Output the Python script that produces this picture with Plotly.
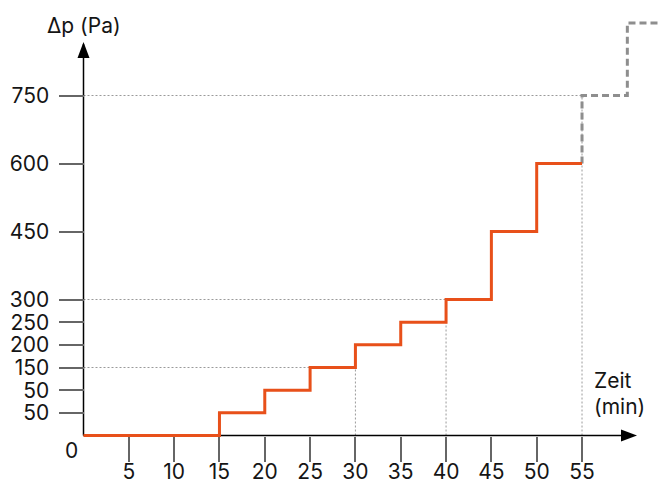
import plotly.graph_objects as go

# --- data ---
time_min = [0, 15, 20, 25, 30, 35, 40, 45, 50, 55]
dp_pa = [0, 50, 100, 150, 200, 250, 300, 450, 600, 600]
proj_time = [55, 60, 65]
proj_dp = [600, 750, 910]
x_ticks = [5, 10, 15, 20, 25, 30, 35, 40, 45, 50, 55]
y_ticks = [50, 100, 150, 200, 250, 300, 450, 600, 750]
y_tick_labels = ["50", "50", "150", "200", "250", "300", "450", "600", "750"]

# page body has an 8px margin, so the figure is drawn 8px in from the corner
OFF = 8
W, H = 667 - OFF, 484 - OFF
X0_PX, Y0_PX = 83.5 - OFF, 435.5 - OFF
PX_PER_X = 9.064
PX_PER_Y = 0.45333
xmin, xmax = -X0_PX / PX_PER_X, (W - X0_PX) / PX_PER_X
ymin, ymax = -(H - Y0_PX) / PX_PER_Y, Y0_PX / PX_PER_Y


def dx(px):  # reference page pixel -> data x
    return (px - OFF - X0_PX) / PX_PER_X


def dy(py):  # reference page pixel -> data y
    return (Y0_PX - (py - OFF)) / PX_PER_Y


FONT = "Inter"
FS = 21
ORANGE = "#e8501a"
GREY = "#8e8e8e"
DOT = "#9a9a9a"
TICKC = "#666666"

fig = go.Figure()

# guide lines (dotted)
guides_h = [(150, 25), (300, 40), (750, 55)]
guides_v = [(30, 200), (40, 300), (55, 750)]
for yv, xe in guides_h:
    fig.add_shape(type="line", x0=0, x1=xe, y0=yv, y1=yv, xref="x", yref="y",
                  line=dict(color=DOT, width=1, dash="2px,2px"), layer="below")
for xv, ye in guides_v:
    fig.add_shape(type="line", x0=xv, x1=xv, y0=0, y1=ye, xref="x", yref="y",
                  line=dict(color=DOT, width=1, dash="2px,2px"), layer="below")

fig.add_trace(go.Scatter(x=proj_time, y=proj_dp, mode="lines", line_shape="vh",
                         line=dict(color=GREY, width=3, dash="7px,4px"),
                         hoverinfo="skip", showlegend=False))
fig.add_trace(go.Scatter(x=time_min, y=dp_pa, mode="lines", line_shape="hv",
                         line=dict(color=ORANGE, width=3),
                         hoverinfo="skip", showlegend=False))

# axis lines with arrowheads
x_tip = dx(637)
y_tip = dy(42)
fig.add_shape(type="line", x0=0, x1=x_tip - 1, y0=0, y1=0, xref="x", yref="y",
              line=dict(color="black", width=1.5), layer="below")
fig.add_shape(type="line", x0=0, x1=0, y0=0, y1=y_tip - 5, xref="x", yref="y",
              line=dict(color="black", width=1.5), layer="below")
fig.add_shape(type="path", xsizemode="pixel", ysizemode="pixel", xanchor=x_tip, yanchor=0,
              xref="x", yref="y", path="M0,0 L-16,6 L-16,-6 Z",
              fillcolor="black", line=dict(width=0))
fig.add_shape(type="path", xsizemode="pixel", ysizemode="pixel", xanchor=0, yanchor=y_tip,
              xref="x", yref="y", path="M0,0 L-6,-16 L6,-16 Z",
              fillcolor="black", line=dict(width=0))

fig.update_layout(
    width=W, height=H, margin=dict(l=0, r=0, t=0, b=0),
    paper_bgcolor="white", plot_bgcolor="white",
    font=dict(family=FONT, size=FS, color="#151515"),
    xaxis=dict(range=[xmin, xmax], tickvals=x_ticks, ticktext=[str(v) for v in x_ticks],
               ticks="outside", ticklen=25, tickwidth=2, tickcolor=TICKC,
               showgrid=False, zeroline=False, showline=False,
               anchor="free", position=(H - Y0_PX) / H, automargin=False,
               ticklabelstandoff=-8, tickfont=dict(size=FS)),
    yaxis=dict(range=[ymin, ymax], tickvals=y_ticks, ticktext=y_tick_labels,
               ticks="outside", ticklen=25, tickwidth=2, tickcolor=TICKC,
               showgrid=False, zeroline=False, showline=False,
               anchor="free", position=X0_PX / W, automargin=False,
               ticklabelstandoff=5, tickfont=dict(size=FS)),
)

fig.add_annotation(x=dx(71), y=dy(450), xref="x", yref="y", text="0", showarrow=False)
fig.add_annotation(x=dx(83.5), y=dy(25), xref="x", yref="y", text="Δp (Pa)", showarrow=False)
fig.add_annotation(x=dx(592), y=dy(380), xref="x", yref="y", text="Zeit",
                   showarrow=False, xanchor="left")
fig.add_annotation(x=dx(592), y=dy(406), xref="x", yref="y", text="(min)",
                   showarrow=False, xanchor="left")

fig.write_html("out.html")
